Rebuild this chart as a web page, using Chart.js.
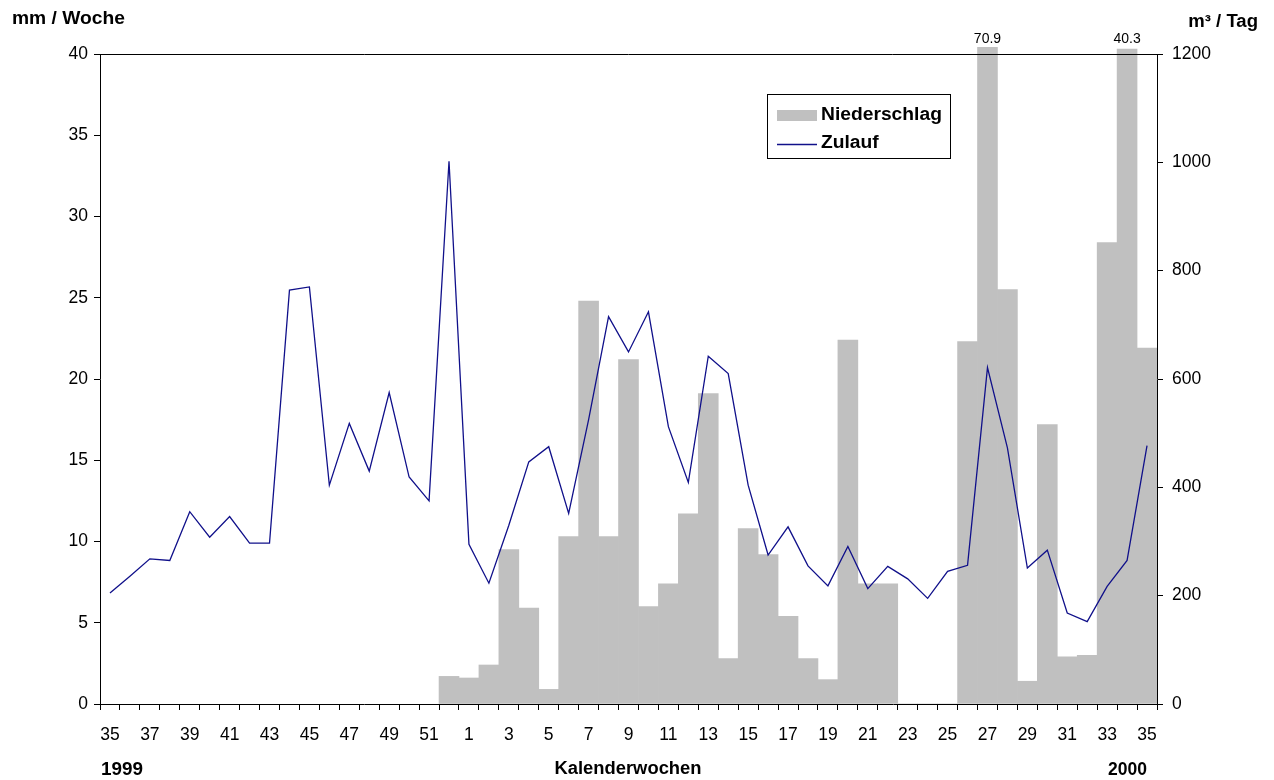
<!DOCTYPE html>
<html lang="de">
<head>
<meta charset="utf-8">
<title>Niederschlag und Zulauf</title>
<script src="https://cdn.jsdelivr.net/npm/chart.js@4/dist/chart.umd.min.js"></script>
<style>
  html, body { margin: 0; padding: 0; background: #fff; }
  canvas { display: block; }
</style>
</head>
<body>
<canvas id="c" width="1274" height="780"></canvas>
<script>
// Kalenderwochen 35/1999 bis 35/2000
const weeks1999 = [35, 36, 37, 38, 39, 40, 41, 42, 43, 44, 45, 46, 47, 48, 49, 50, 51, 52];
const weeks2000 = [1, 2, 3, 4, 5, 6, 7, 8, 9, 10, 11, 12, 13, 14, 15, 16, 17, 18, 19, 20,
                   21, 22, 23, 24, 25, 26, 27, 28, 29, 30, 31, 32, 33, 34, 35];

// Niederschlag in mm / Woche (1999: erst ab KW 52 gemessen)
const niederschlag1999 = [null, null, null, null, null, null, null, null, null,
                          null, null, null, null, null, null, null, null, 1.7];
const niederschlag2000 = [1.6, 2.4, 9.5, 5.9, 0.9, 10.3, 24.8, 10.3, 21.2, 6.0,
                          7.4, 11.7, 19.1, 2.8, 10.8, 9.2, 5.4, 2.8, 1.5, 22.4,
                          7.4, 7.4, 0, 0, 0, 22.3, 70.9, 25.5, 1.4, 17.2,
                          2.9, 3.0, 28.4, 40.3, 21.9];

// Zulauf in m³ / Tag
const zulauf1999 = [205, 236, 268, 265, 355, 308, 346, 297, 297, 764, 770, 404,
                    518, 430, 575, 419, 375, 1002];
const zulauf2000 = [295, 223, 330, 447, 475, 352, 525, 715, 650, 724, 512, 409,
                    642, 610, 404, 275, 327, 255, 218, 291, 213, 254, 231, 195,
                    245, 256, 621, 473, 251, 284, 168, 152, 217, 265, 477];

const mmTicks = { min: 0, max: 40, step: 5 };
const m3Ticks = { min: 0, max: 1200, step: 200 };

const weeks = weeks1999.concat(weeks2000);
const niederschlag = niederschlag1999.concat(niederschlag2000);
const zulauf = zulauf1999.concat(zulauf2000);

const FONT = '"Liberation Sans", Arial, Helvetica, sans-serif';
const tickFont = { family: FONT, size: 17.5 };

function stretchedText(ctx, txt, x, y, align, font, sx) {
  ctx.save();
  ctx.font = font;
  ctx.fillStyle = '#000';
  ctx.textBaseline = 'alphabetic';
  ctx.textAlign = align;
  ctx.translate(x, y);
  ctx.scale(sx, 1);
  ctx.fillText(txt, 0, 0);
  ctx.restore();
}

// Rahmen oben, Achsentitel, Werte über abgeschnittenen Balken, Legende
const decor = {
  id: 'decor',
  afterDatasetsDraw(chart) {
    const { ctx, chartArea: a } = chart;
    ctx.save();
    ctx.strokeStyle = '#000';
    ctx.lineWidth = 1;
    ctx.beginPath();
    ctx.moveTo(a.left, Math.round(a.top) + 0.5);
    ctx.lineTo(a.right, Math.round(a.top) + 0.5);
    ctx.stroke();
    ctx.restore();
  },
  afterDraw(chart) {
    const { ctx, chartArea: a, scales } = chart;
    const bold = 'bold 17.5px ' + FONT;

    stretchedText(ctx, 'mm / Woche', 12, 24, 'left', bold, 1.1);
    stretchedText(ctx, 'm³ / Tag', 1258, 27, 'right', bold, 1.06);
    stretchedText(ctx, '1999', 101, 775, 'left', bold, 1.08);
    stretchedText(ctx, 'Kalenderwochen', 628, 774, 'center', bold, 1.05);
    stretchedText(ctx, '2000', 1147, 775, 'right', bold, 1.0);

    // Werte der Balken, die über die Skala hinausgehen
    const barMeta = chart.getDatasetMeta(1);
    const yMax = scales.y.max;
    ctx.save();
    ctx.font = '14px ' + FONT;
    ctx.fillStyle = '#000';
    ctx.textAlign = 'center';
    ctx.textBaseline = 'alphabetic';
    niederschlag.forEach((v, i) => {
      if (v !== null && v > yMax) {
        const el = barMeta.data[i];
        ctx.fillText(v.toFixed(1), el.x, a.top - 11);
      }
    });
    ctx.restore();

    // Legende
    const bx = 767.5, by = 94.5, bw = 183, bh = 64;
    ctx.save();
    ctx.fillStyle = '#fff';
    ctx.fillRect(bx, by, bw, bh);
    ctx.strokeStyle = '#000';
    ctx.lineWidth = 1;
    ctx.strokeRect(bx, by, bw, bh);
    const barDs = chart.data.datasets[1];
    const lineDs = chart.data.datasets[0];
    ctx.fillStyle = barDs.backgroundColor;
    ctx.fillRect(777, 110, 40, 11);
    ctx.strokeStyle = lineDs.borderColor;
    ctx.lineWidth = lineDs.borderWidth;
    ctx.beginPath();
    ctx.moveTo(777, 144.5);
    ctx.lineTo(817, 144.5);
    ctx.stroke();
    ctx.restore();
    stretchedText(ctx, barDs.label, 821, 120, 'left', bold, 1.1);
    stretchedText(ctx, lineDs.label, 821, 148, 'left', bold, 1.1);
  }
};

new Chart(document.getElementById('c'), {
  type: 'bar',
  data: {
    labels: weeks,
    datasets: [
      {
        type: 'line',
        label: 'Zulauf',
        data: zulauf,
        yAxisID: 'y1',
        borderColor: '#10108a',
        borderWidth: 1.3,
        pointRadius: 0,
        tension: 0,
        fill: false,
        order: 0
      },
      {
        type: 'bar',
        label: 'Niederschlag',
        data: niederschlag,
        yAxisID: 'y',
        backgroundColor: '#c0c0c0',
        borderWidth: 0,
        barPercentage: 1,
        categoryPercentage: 1,
        clip: { left: 0, top: 7, right: 0, bottom: 0 },
        order: 1
      }
    ]
  },
  options: {
    responsive: false,
    animation: false,
    layout: { padding: { top: 54, left: 0, right: 0, bottom: 0 } },
    plugins: {
      legend: { display: false },
      tooltip: { enabled: false }
    },
    scales: {
      x: {
        offset: true,
        grid: { offset: true, drawOnChartArea: false, tickLength: 6, color: '#000', lineWidth: 1 },
        border: { color: '#000', width: 1 },
        ticks: {
          autoSkip: false,
          maxRotation: 0,
          minRotation: 0,
          padding: 15,
          color: '#000',
          font: tickFont,
          callback(value, index) { return index % 2 === 0 ? String(weeks[index]) : ''; }
        },
        afterFit(scale) { scale.height = 76; }
      },
      y: {
        position: 'left',
        min: mmTicks.min,
        max: mmTicks.max,
        grid: { drawOnChartArea: false, tickLength: 6, color: '#000' },
        border: { color: '#000', width: 1 },
        ticks: {
          stepSize: mmTicks.step, padding: 6, color: '#000', font: tickFont,
          callback(value) { return String(value); }
        },
        afterFit(scale) { scale.width = 100; }
      },
      y1: {
        position: 'right',
        min: m3Ticks.min,
        max: m3Ticks.max,
        grid: { drawOnChartArea: false, tickLength: 6, color: '#000' },
        border: { color: '#000', width: 1 },
        ticks: {
          stepSize: m3Ticks.step, padding: 9, color: '#000', font: tickFont,
          callback(value) { return String(value); }
        },
        afterFit(scale) { scale.width = 117; }
      }
    }
  },
  plugins: [decor]
});
</script>
</body>
</html>
